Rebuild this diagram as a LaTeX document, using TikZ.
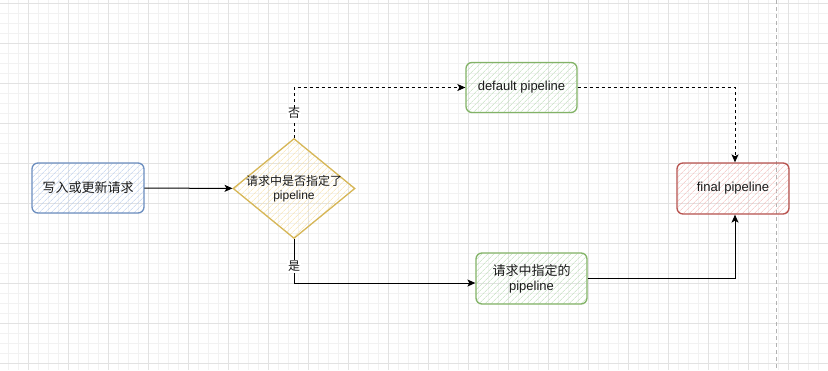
\documentclass[tikz,border=0pt]{standalone}
\usepackage{fontspec}
\setmainfont{Liberation Sans}
\newfontfamily\cjk{Noto Sans CJK SC}
\usetikzlibrary{arrows.meta,patterns.meta,positioning,shapes.geometric}
\definecolor{bluestroke}{HTML}{6C8EBF}
\definecolor{bluehatch}{HTML}{B8CDEE}
\definecolor{greenstroke}{HTML}{82B366}
\definecolor{greenhatch}{HTML}{BCDDB7}
\definecolor{yellowstroke}{HTML}{D6B656}
\definecolor{yellowhatch}{HTML}{F8E2A8}
\definecolor{redstroke}{HTML}{B85450}
\definecolor{redhatch}{HTML}{F2BAB8}
\definecolor{txt}{HTML}{1A1A1A}
\definecolor{gridminor}{HTML}{F2F2F2}
\definecolor{gridmajor}{HTML}{E2E2E2}
\tikzset{
  box/.style={draw, rounded corners=6pt, line width=1.3pt, minimum width=#1, minimum height=50pt, inner sep=0pt, align=center, text=txt, font=\fontsize{13}{15}\selectfont},
  bluebox/.style={box=112pt, draw=bluestroke, pattern={Lines[angle=45,distance=4pt,line width=0.6pt]}, pattern color=bluehatch},
  greenbox/.style={box=111pt, draw=greenstroke, pattern={Lines[angle=45,distance=4pt,line width=0.6pt]}, pattern color=greenhatch},
  redbox/.style={box=112pt, draw=redstroke, pattern={Lines[angle=45,distance=4pt,line width=0.6pt]}, pattern color=redhatch},
  decision/.style={draw=yellowstroke, shape=diamond, line width=1.3pt, minimum width=122pt, minimum height=100pt, inner sep=0pt, pattern={Lines[angle=45,distance=4pt,line width=0.6pt]}, pattern color=yellowhatch},
  dtext/.style={align=center, text=txt, font=\fontsize{12}{14}\selectfont},
  conn/.style={line width=1pt, -{Stealth[length=8pt,width=7pt,inset=2pt]}},
  lbl/.style={fill=white, inner sep=1pt, text=txt, font=\fontsize{12}{14}\selectfont\cjk},
}
\begin{document}
\begin{tikzpicture}[x=1pt,y=-1pt]
\useasboundingbox (0,0) rectangle (828,370);
\fill[white] (0,0) rectangle (828,370);
% grid
\foreach \x in {8,18,...,828} \draw[gridminor, line width=0.6pt] (\x,0) -- (\x,370);
\foreach \y in {3,13,...,370} \draw[gridminor, line width=0.6pt] (0,\y) -- (828,\y);
\foreach \x in {28,68,...,828} \draw[gridmajor, line width=0.7pt] (\x,0) -- (\x,370);
\foreach \y in {3,43,...,370} \draw[gridmajor, line width=0.7pt] (0,\y) -- (828,\y);
\draw[gray!60, line width=0.8pt, dash pattern=on 4pt off 3pt] (776,0) -- (776,370);
% nodes
\node[bluebox] (w) at (88,188) {\cjk 写入或更新请求};
\node[decision] (d) at (294,188.5) {};
\node[dtext] (dt) at (294,189) {{\cjk 请求中是否指定了}\\pipeline};
\node[greenbox] (dp) at (521.5,87.5) {default pipeline};
\node[greenbox, minimum height=51pt] (sp) at (531.5,278.5) {{\cjk 请求中指定的}\\pipeline};
\node[redbox, minimum height=51pt] (fp) at (733,188.5) {final pipeline};
% connectors
\draw[conn] (w) -- (d);
\draw[conn, dashed] (d.north) |- node[pos=0.24, lbl] {否} (dp.west);
\draw[conn] (d.south) |- node[pos=0.31, lbl] {是} ([yshift=-4.5pt]sp.west);
\draw[conn, dashed] (dp.east) -| ([xshift=2pt]fp.north);
\draw[conn] (sp.east) -| ([xshift=2pt]fp.south);
\end{tikzpicture}
\end{document}
